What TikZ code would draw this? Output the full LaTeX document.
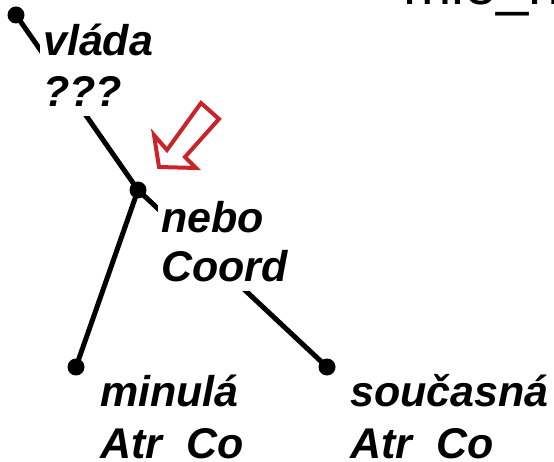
\documentclass[tikz,border=0pt]{standalone}
\usepackage{fontspec}
\setsansfont{Liberation Sans}
\definecolor{arrowred}{RGB}{204,34,41}
\begin{document}
\begin{tikzpicture}[x=1pt,y=-1pt,
  edge/.style={line width=5pt},
  dot/.style={circle, fill=black, inner sep=0pt, minimum size=17pt},
  lbl/.style={font=\sffamily\bfseries\itshape\fontsize{43}{50}\selectfont,
    fill=white, inner xsep=3pt, inner ysep=2pt, anchor=base west,
    text height=33pt, text depth=7pt},
  hollowarrow/.style={draw=arrowred, line width=4pt, line join=miter}]
\useasboundingbox (0,0) rectangle (554,462);
% header, cut off by the top edge
\node[font=\sffamily\fontsize{58}{60}\selectfont, anchor=base west, inner sep=0pt] (hdr) at (403,5) {mie\_h};
% nodes
\node[dot] (vl) at (16,15) {};
\node[dot] (ne) at (138,190) {};
\node[dot] (mi) at (76,367) {};
\node[dot] (so) at (327,367) {};
% edges
\draw[edge] (vl.center) -- (ne.center);
\draw[edge] (ne.center) -- (mi.center);
\draw[edge] (ne.center) -- (so.center);
% labels
\node[lbl, text depth=16pt] (vlw) at (40,56) {vláda};
\node[lbl] (vlf) at (40,107) {???};
\node[lbl, text depth=16pt] (new) at (158,233) {nebo};
\node[lbl] (nef) at (158,282) {Coord};
\node[lbl] (miw) at (97,406) {minulá};
\node[lbl] (mif) at (97,458) {Atr\raisebox{-8pt}{\_}Co};
\node[lbl] (sow) at (347,406) {současná};
\node[lbl] (sof) at (347,458) {Atr\raisebox{-8pt}{\_}Co};
% red hollow arrow
\draw[hollowarrow] (201,103) -- (219,119) -- (185,157) -- (196,168) -- (159,167) -- (154,135) -- (167,150) -- cycle;
\end{tikzpicture}
\end{document}
